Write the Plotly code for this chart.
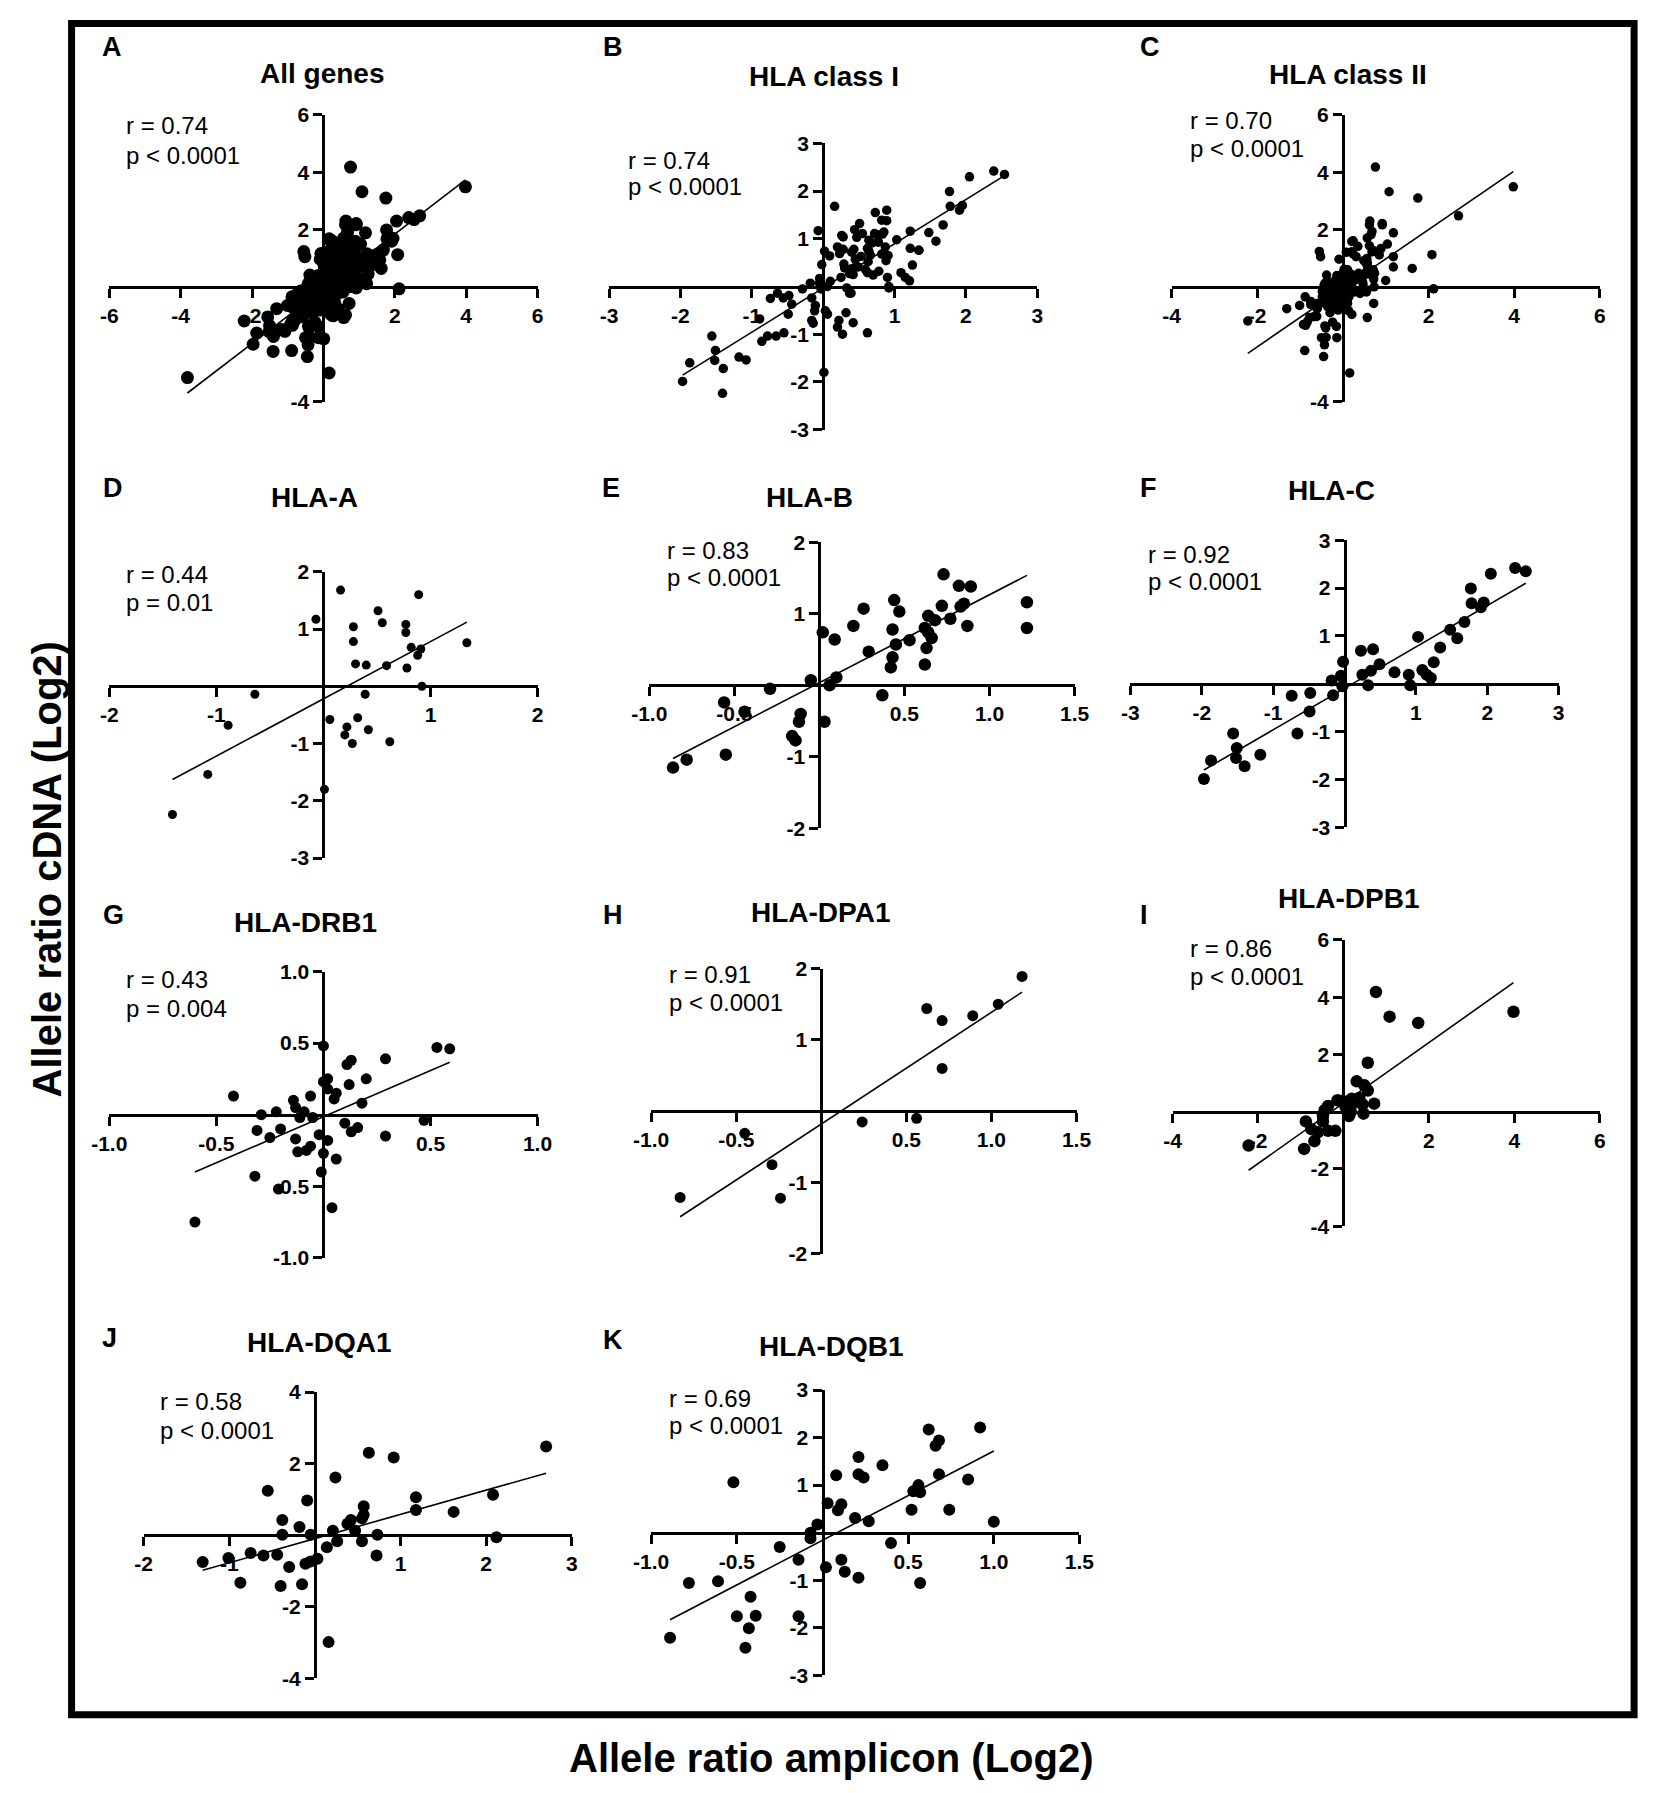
import plotly.graph_objects as go

W, H = 1654, 1793
PAGE_PAD = 8  # browser default body margin
FIG_W, FIG_H = W - PAGE_PAD, H - 2 * PAGE_PAD
FONT = "Liberation Sans, Arial, sans-serif"

# ---- values (log2 allele ratios) ----
# D  HLA-A
hla_a_x = [0.16, 0.89, 0.51, -0.07, 0.55, 0.28, 0.77, 0.77, 0.28, 1.34, 0.82, 0.91, 0.88, 0.30, 0.40, 0.59,
           0.78, 0.92, -0.64, 0.39, -0.89, 0.06, 0.32, 0.22, 0.20, 0.42, 0.27, 0.62, -1.08, 0.01, -1.41]
hla_a_y = [1.68, 1.60, 1.32, 1.17, 1.11, 1.04, 1.08, 0.94, 0.78, 0.76, 0.68, 0.65, 0.54, 0.39, 0.37, 0.36,
           0.32, 0.00, -0.14, -0.14, -0.68, -0.58, -0.55, -0.71, -0.85, -0.76, -1.00, -0.97, -1.54, -1.80, -2.24]
# E  HLA-B
hla_b_x = [0.73, 0.82, 0.89, 0.44, 0.47, 0.26, 0.72, 0.85, 0.83, 1.22, 0.64, 0.68, 0.77, 0.87, 1.22, 0.20,
           0.43, 0.62, 0.64, 0.66, 0.02, 0.09, 0.53, 0.45, 0.29, 0.63, 0.43, 0.42, 0.62, -0.05, 0.10, 0.06,
           -0.29, 0.37, -0.56, -0.44, -0.11, -0.12, 0.03, -0.16, -0.14, -0.55, -0.78, -0.86]
hla_b_y = [1.55, 1.39, 1.38, 1.19, 1.03, 1.07, 1.11, 1.14, 1.10, 1.16, 0.97, 0.91, 0.93, 0.83, 0.80, 0.83,
           0.78, 0.80, 0.74, 0.66, 0.74, 0.64, 0.63, 0.57, 0.47, 0.52, 0.39, 0.25, 0.29, 0.07, 0.11, 0.00,
           -0.05, -0.14, -0.24, -0.37, -0.40, -0.51, -0.51, -0.71, -0.77, -0.97, -1.04, -1.15]
# F  HLA-C
hla_c_x = [2.39, 2.54, 2.05, 1.77, 1.78, 1.95, 1.91, 1.68, 1.48, 1.58, 1.03, 1.34, 0.23, 0.40, -0.02, 0.49,
           0.37, 1.25, 1.09, 0.70, 0.25, 0.90, 1.15, 1.21, -0.18, -0.05, -0.03, 0.33, 0.92, -0.48, -0.74,
           -0.16, -0.49, -0.66, -1.56, -1.51, -1.52, -1.18, -1.40, -1.87, -1.97]
hla_c_y = [2.42, 2.35, 2.30, 1.99, 1.68, 1.70, 1.60, 1.29, 1.13, 0.95, 0.98, 0.76, 0.69, 0.72, 0.46, 0.41,
           0.27, 0.45, 0.29, 0.24, 0.19, 0.19, 0.19, 0.12, 0.07, 0.17, -0.05, -0.03, -0.03, -0.19, -0.25,
           -0.24, -0.58, -1.04, -1.04, -1.34, -1.55, -1.48, -1.72, -1.60, -1.99]
# G  HLA-DRB1
hla_drb1_x = [0.53, 0.59, 0.00, 0.29, 0.13, 0.11, 0.20, 0.02, 0.00, 0.12, 0.02, 0.06, 0.05, -0.42, -0.06,
              -0.14, 0.18, -0.13, -0.09, -0.11, -0.05, -0.29, -0.22, 0.47, 0.10, 0.16, 0.13, -0.31, -0.20,
              -0.25, 0.29, -0.02, 0.02, -0.13, -0.12, -0.08, -0.06, 0.00, 0.06, -0.32, -0.01, -0.21, 0.04, -0.60]
hla_drb1_y = [0.47, 0.46, 0.48, 0.39, 0.38, 0.35, 0.25, 0.25, 0.23, 0.21, 0.18, 0.15, 0.11, 0.13, 0.13,
              0.10, 0.08, 0.05, 0.02, -0.02, -0.02, 0.00, 0.02, -0.04, -0.06, -0.09, -0.12, -0.11, -0.10,
              -0.16, -0.15, -0.14, -0.18, -0.17, -0.26, -0.25, -0.22, -0.27, -0.31, -0.43, -0.40, -0.52, -0.65, -0.75]
# H  HLA-DPA1
hla_dpa1_x = [1.18, 1.04, 0.62, 0.89, 0.71, 0.71, 0.24, 0.56, -0.45, -0.29, -0.24, -0.83]
hla_dpa1_y = [1.89, 1.50, 1.44, 1.34, 1.27, 0.60, -0.15, -0.10, -0.31, -0.75, -1.22, -1.21]
# I  HLA-DPB1
hla_dpb1_x = [0.76, 1.08, 1.75, 3.98, 0.57, 0.31, 0.49, 0.57, -0.14, -0.02, 0.19, 0.37, 0.25, 0.72, 0.45,
              0.05, -0.36, -0.44, 0.17, 0.47, 0.13, -0.48, -0.48, -0.88, -0.75, -0.60, -0.36, -0.19, -0.68,
              -0.92, -2.22]
hla_dpb1_y = [4.18, 3.32, 3.10, 3.49, 1.71, 1.06, 0.92, 0.74, 0.40, 0.38, 0.45, 0.48, 0.31, 0.28, 0.25,
              0.16, 0.20, 0.05, -0.01, -0.07, -0.15, -0.15, -0.34, -0.34, -0.61, -0.72, -0.67, -0.67, -1.03,
              -1.30, -1.18]
# J  HLA-DQA1
hla_dqa1_x = [2.70, 0.63, 0.92, 0.24, -0.55, -0.09, 2.08, 1.18, 0.57, 1.18, 1.62, 0.57, 0.55, 0.42, 0.38,
              -0.38, -0.18, 0.21, 0.47, -0.38, -0.05, 0.73, 2.12, 0.26, 0.55, 0.14, -0.75, -0.60, -0.44,
              -1.01, -1.31, 0.03, -0.05, -0.11, 0.72, -0.30, -0.87, -0.40, -0.15, 0.16]
hla_dqa1_y = [2.48, 2.30, 2.17, 1.61, 1.24, 0.97, 1.13, 1.06, 0.81, 0.70, 0.65, 0.56, 0.47, 0.42, 0.32,
              0.42, 0.23, 0.12, 0.12, 0.01, 0.01, 0.01, -0.06, -0.17, -0.17, -0.34, -0.50, -0.57, -0.55,
              -0.64, -0.75, -0.66, -0.74, -0.80, -0.57, -0.89, -1.33, -1.42, -1.37, -2.99]
# K  HLA-DQB1
hla_dqb1_x = [0.92, 0.62, 0.68, 0.66, 0.21, 0.35, -0.52, 0.08, 0.21, 0.24, 0.68, 0.85, 0.56, 0.53, 0.57,
              0.03, 0.11, 0.09, 0.52, 0.74, 0.19, 0.27, 1.00, -0.03, -0.07, -0.07, 0.40, -0.25, -0.14, 0.11,
              0.02, 0.13, 0.21, -0.78, -0.61, 0.57, -0.42, -0.50, -0.39, -0.14, -0.43, -0.89, -0.45]
hla_dqb1_y = [2.21, 2.17, 1.94, 1.83, 1.59, 1.42, 1.06, 1.21, 1.23, 1.16, 1.23, 1.12, 1.00, 0.87, 0.85,
              0.62, 0.60, 0.47, 0.48, 0.48, 0.31, 0.24, 0.23, 0.17, 0.00, -0.12, -0.22, -0.30, -0.57, -0.57,
              -0.73, -0.82, -0.95, -1.06, -1.02, -1.06, -1.35, -1.76, -1.75, -1.76, -2.01, -2.21, -2.42]
# point only present in "All genes"
other_x = [-3.81]
other_y = [-3.15]

class_i_x = hla_a_x + hla_b_x + hla_c_x
class_i_y = hla_a_y + hla_b_y + hla_c_y
class_ii_x = hla_drb1_x + hla_dpa1_x + hla_dpb1_x + hla_dqa1_x + hla_dqb1_x
class_ii_y = hla_drb1_y + hla_dpa1_y + hla_dpb1_y + hla_dqa1_y + hla_dqb1_y
all_x = class_i_x + class_ii_x + other_x
all_y = class_i_y + class_ii_y + other_y

panel_x = [all_x, class_i_x, class_ii_x, hla_a_x, hla_b_x, hla_c_x,
           hla_drb1_x, hla_dpa1_x, hla_dpb1_x, hla_dqa1_x, hla_dqb1_x]
panel_y = [all_y, class_i_y, class_ii_y, hla_a_y, hla_b_y, hla_c_y,
           hla_drb1_y, hla_dpa1_y, hla_dpb1_y, hla_dqa1_y, hla_dqb1_y]

panel_letters = ["A", "B", "C", "D", "E", "F", "G", "H", "I", "J", "K"]
panel_titles = ["All genes", "HLA class I", "HLA class II", "HLA-A", "HLA-B", "HLA-C",
                "HLA-DRB1", "HLA-DPA1", "HLA-DPB1", "HLA-DQA1", "HLA-DQB1"]
r_labels = ["r = 0.74", "r = 0.74", "r = 0.70", "r = 0.44", "r = 0.83", "r = 0.92",
            "r = 0.43", "r = 0.91", "r = 0.86", "r = 0.58", "r = 0.69"]
p_labels = ["p < 0.0001", "p < 0.0001", "p < 0.0001", "p = 0.01", "p < 0.0001", "p < 0.0001",
            "p = 0.004", "p < 0.0001", "p < 0.0001", "p < 0.0001", "p < 0.0001"]
# regression lines
fit_slopes = [0.952, 0.927, 1.02, 1.0, 1.23, 0.865, 0.644, 1.567, 1.057, 0.677, 1.878]
fit_intercepts = [-0.06, -0.03, -0.04, -0.22, 0.035, -0.096, -0.014, -0.18, 0.30, -0.097, -0.16]

x_ranges = [[-6, 6], [-3, 3], [-4, 6], [-2, 2], [-1, 1.5], [-3, 3],
            [-1, 1], [-1, 1.5], [-4, 6], [-2, 3], [-1, 1.5]]
y_ranges = [[-4, 6], [-3, 3], [-4, 6], [-3, 2], [-2, 2], [-3, 3],
            [-1, 1], [-2, 2], [-4, 6], [-4, 4], [-3, 3]]
x_tick_labels = [["-6", "-4", "-2", "2", "4", "6"], ["-3", "-2", "-1", "1", "2", "3"],
                 ["-4", "-2", "2", "4", "6"], ["-2", "-1", "1", "2"],
                 ["-1.0", "-0.5", "0.5", "1.0", "1.5"], ["-3", "-2", "-1", "1", "2", "3"],
                 ["-1.0", "-0.5", "0.5", "1.0"], ["-1.0", "-0.5", "0.5", "1.0", "1.5"],
                 ["-4", "-2", "2", "4", "6"], ["-2", "-1", "1", "2", "3"],
                 ["-1.0", "-0.5", "0.5", "1.0", "1.5"]]
y_tick_labels = [["-4", "2", "4", "6"], ["-3", "-2", "-1", "1", "2", "3"],
                 ["-4", "2", "4", "6"], ["-3", "-2", "-1", "1", "2"],
                 ["-2", "-1", "1", "2"], ["-3", "-2", "-1", "1", "2", "3"],
                 ["-1.0", "-0.5", "0.5", "1.0"], ["-2", "-1", "1", "2"],
                 ["-4", "-2", "2", "4", "6"], ["-4", "-2", "2", "4"],
                 ["-3", "-2", "-1", "1", "2", "3"]]

# ---- placement (pixels in the 1654x1793 page) ----
# axis box: left, right, top, bottom ; letter, title, stats positions ; marker size
boxes = [(93, 530, 104, 395), (603, 1040, 133, 423), (1177, 1614, 104, 395),
         (93, 530, 567, 857), (644, 1078, 537, 827), (1135, 1572, 535, 826),
         (93, 530, 972, 1262), (646, 1080, 969, 1258), (1178, 1614, 940, 1230),
         (128, 565, 1398, 1688), (646, 1083, 1396, 1685)]
letter_pos = [(96, 35), (607, 35), (1155, 35), (97, 482), (605, 482), (1153, 482),
              (97, 915), (607, 915), (1149, 915), (93, 1343), (607, 1345)]
title_pos = [(310, 62), (822, 65), (1357, 63), (302, 492), (808, 492), (1340, 485),
             (293, 922), (819, 912), (1358, 898), (308, 1348), (830, 1352)]
stats_pos = [(108, 115, 145), (620, 150, 177), (1194, 110, 138), (108, 570, 598),
             (660, 545, 573), (1151, 550, 577), (108, 980, 1009), (662, 975, 1003),
             (1194, 949, 977), (143, 1408, 1437), (662, 1405, 1432)]
marker_sizes = [13, 9.5, 9.5, 9, 12.5, 12, 11, 11, 12.5, 12, 12]


def px(xp):
    return (xp - PAGE_PAD) / FIG_W


def py(yp):
    return 1 - (yp - PAGE_PAD) / FIG_H


fig = go.Figure()
annotations = []
layout_axes = {}

for i in range(11):
    n = "" if i == 0 else str(i + 1)
    left, right, top, bottom = boxes[i]
    x0, x1 = x_ranges[i]
    y0, y1 = y_ranges[i]
    zero_x = left + (0 - x0) / (x1 - x0) * (right - left)
    zero_y = top + (y1 - 0) / (y1 - y0) * (bottom - top)

    xs = panel_x[i]
    ys = panel_y[i]
    fig.add_trace(go.Scatter(x=xs, y=ys, mode="markers", xaxis="x" + n, yaxis="y" + n,
                             marker=dict(color="black", size=marker_sizes[i], line=dict(width=0)),
                             showlegend=False, cliponaxis=False))
    lx = [min(xs), max(xs)]
    ly = [fit_slopes[i] * v + fit_intercepts[i] for v in lx]
    fig.add_trace(go.Scatter(x=lx, y=ly, mode="lines", xaxis="x" + n, yaxis="y" + n,
                             line=dict(color="black", width=1.6), showlegend=False))

    common = dict(showgrid=False, zeroline=False, showline=True, linewidth=3, linecolor="black",
                  ticks="outside", ticklen=9, tickwidth=3, tickcolor="black",
                  tickfont=dict(family=FONT, size=21, color="black", weight="bold"),
                  fixedrange=True)
    layout_axes["xaxis" + n] = dict(common, domain=[px(left), px(right)], range=[x0, x1],
                                    anchor="free", position=py(zero_y),
                                    tickvals=[float(t) for t in x_tick_labels[i]],
                                    ticktext=x_tick_labels[i])
    layout_axes["yaxis" + n] = dict(common, domain=[py(bottom), py(top)], range=[y0, y1],
                                    anchor="free", position=px(zero_x),
                                    tickvals=[float(t) for t in y_tick_labels[i]],
                                    ticktext=y_tick_labels[i])

    annotations.append(dict(text=panel_letters[i], x=px(letter_pos[i][0]), y=py(letter_pos[i][1]),
                            xref="paper", yref="paper", xanchor="center", yanchor="middle",
                            showarrow=False, font=dict(family=FONT, size=27, color="black", weight="bold")))
    annotations.append(dict(text=panel_titles[i], x=px(title_pos[i][0]), y=py(title_pos[i][1]),
                            xref="paper", yref="paper", xanchor="center", yanchor="middle",
                            showarrow=False, font=dict(family=FONT, size=28, color="black", weight="bold")))
    sx, ry, pyy = stats_pos[i]
    annotations.append(dict(text=r_labels[i], x=px(sx), y=py(ry), xref="paper", yref="paper",
                            xanchor="left", yanchor="middle", showarrow=False,
                            font=dict(family=FONT, size=24, color="black")))
    annotations.append(dict(text=p_labels[i], x=px(sx), y=py(pyy), xref="paper", yref="paper",
                            xanchor="left", yanchor="middle", showarrow=False,
                            font=dict(family=FONT, size=24, color="black")))

# shared axis titles
annotations.append(dict(text="Allele ratio amplicon (Log2)", x=px(830), y=py(1769), xref="paper", yref="paper",
                        xanchor="center", yanchor="middle", showarrow=False,
                        font=dict(family=FONT, size=40, color="black", weight="bold")))
annotations.append(dict(text="Allele ratio cDNA (Log2)", x=px(29), y=py(869), xref="paper", yref="paper",
                        xanchor="center", yanchor="middle", showarrow=False, textangle=-90,
                        font=dict(family=FONT, size=40, color="black", weight="bold")))

fig.update_layout(
    width=FIG_W, height=FIG_H,
    margin=dict(l=0, r=0, t=0, b=0),
    paper_bgcolor="white", plot_bgcolor="white",
    annotations=annotations,
    shapes=[dict(type="rect", xref="paper", yref="paper", x0=px(54.5), x1=px(1649), y0=py(1725), y1=py(11.5),
                 line=dict(color="black", width=7), fillcolor="rgba(0,0,0,0)")],
    **layout_axes
)

fig.write_html("out.html")
